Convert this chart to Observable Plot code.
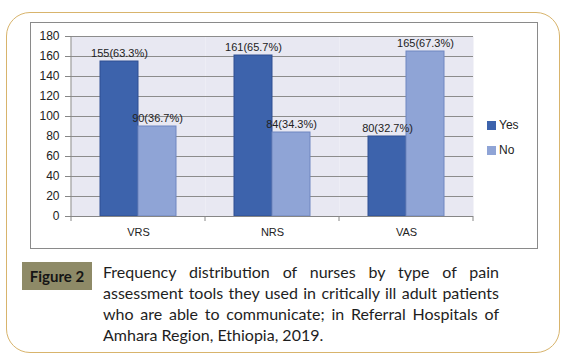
<!DOCTYPE html>
<html>
<head>
<meta charset="utf-8">
<script src="https://cdn.jsdelivr.net/npm/d3@7"></script>
<script src="https://cdn.jsdelivr.net/npm/@observablehq/plot@0.6"></script>
<style>
  html, body { margin: 0; padding: 0; background: #fff; }
  #wrap { position: relative; width: 568px; height: 363px; background: #fff; overflow: hidden; }
  #frame { position: absolute; left: 6px; top: 12px; width: 554px; height: 341px; border: 1.5px solid #d8b46c; border-radius: 24px; box-sizing: border-box; }
  #chart { position: absolute; left: 30px; top: 22px; width: 508px; height: 227px; border: 1px solid #8a8a8a; box-sizing: border-box; background: #fff; }
  #chart svg { display: block; }
  .leg { position: absolute; left: 487px; font: 12px "Liberation Sans", Arial, sans-serif; color: #222; display: flex; align-items: center; }
  .leg span.sw { display: inline-block; width: 9px; height: 9px; margin-right: 3px; }
  #figlabel { position: absolute; left: 22px; top: 262px; width: 70px; height: 28px; background: #8e8a67; font: bold 15px Lato, sans-serif; color: #151515; display: flex; align-items: center; justify-content: center; }
  #captext { position: absolute; left: 103px; top: 261px; width: 396px; font: 16px Lato, sans-serif; line-height: 21px; color: #1e1e1e; text-align: justify; }
</style>
</head>
<body>
<div id="wrap">
  <div id="frame"></div>
  <div id="chart"></div>
  <div id="legend"></div>
  <div id="figlabel"></div>
  <div id="captext"></div>
</div>
<script>
const categories = ["VRS", "NRS", "VAS"];
const seriesNames = ["Yes", "No"];
const yesValues = [155, 161, 80];
const noValues = [90, 84, 165];
const yesLabels = ["155(63.3%)", "161(65.7%)", "80(32.7%)"];
const noLabels = ["90(36.7%)", "84(34.3%)", "165(67.3%)"];
const yTicks = [0, 20, 40, 60, 80, 100, 120, 140, 160, 180];
const seriesColors = ["#3d63ac", "#8fa4d6"];
const seriesStrokes = ["#2f4f92", "#6f86c0"];
const figureLabel = "Figure 2";
const captionText = "Frequency distribution of nurses by type of pain assessment tools they used in critically ill adult patients who are able to communicate; in Referral Hospitals of Amhara Region, Ethiopia, 2019.";

const data = categories.flatMap((c, i) => [
  {cat: c, s: "Yes", v: yesValues[i], label: yesLabels[i]},
  {cat: c, s: "No", v: noValues[i], label: noLabels[i]}
]);

const W = 506, H = 225, mL = 40, mR = 64, mT = 13, mB = 32;
const axisColor = "#868686";

const plot = Plot.plot({
  width: W, height: H,
  marginLeft: mL, marginRight: mR, marginTop: mT, marginBottom: mB,
  style: {fontFamily: "'Liberation Sans', Arial, sans-serif", fontSize: "11px", color: "#333", background: "white"},
  fx: {domain: categories, padding: 0, label: null, axis: null},
  x: {domain: seriesNames, paddingInner: 0, paddingOuter: 0.74, axis: null},
  y: {domain: [0, 180], label: null},
  marks: [
    Plot.frame({fill: "#e8e8f2"}),
    Plot.gridY(yTicks, {stroke: "#8c8c8c", strokeOpacity: 1}),
    ...seriesNames.map((s, k) => Plot.barY(data.filter(d => d.s === s), {
      fx: "cat", x: "s", y: "v", fill: seriesColors[k], stroke: seriesStrokes[k], strokeWidth: 1, inset: 0
    })),
    Plot.text(data, {fx: "cat", x: "s", y: "v", text: "label", dy: -8, fontSize: 11, fill: "#222"}),
    Plot.ruleY([0], {stroke: axisColor}),
    Plot.axisY({ticks: yTicks, tickSize: 6, tickPadding: 6, fontSize: 12, stroke: axisColor, strokeOpacity: 1, fill: "#222"}),
    Plot.axisFx({anchor: "bottom", tickSize: 0, tickPadding: 12, label: null, fontSize: 11, fill: "#222"})
  ]
});

// axis line and category boundary ticks derived from the scales
const fxs = plot.scale("fx"), ys = plot.scale("y");
const y0 = ys.apply(0), yTop = ys.apply(180);
const svg = d3.select(plot);
const bounds = [fxs.apply(categories[0]), ...categories.map(c => fxs.apply(c) + fxs.bandwidth)];
svg.append("line").attr("x1", bounds[0]).attr("x2", bounds[0]).attr("y1", yTop).attr("y2", y0 + 5)
  .attr("stroke", axisColor);
bounds.slice(1).forEach(b => {
  svg.append("line").attr("x1", b).attr("x2", b).attr("y1", y0).attr("y2", y0 + 5).attr("stroke", axisColor);
});
document.getElementById("chart").appendChild(plot);

// legend
const legTops = [118, 143];
const leg = document.getElementById("legend");
seriesNames.forEach((s, k) => {
  const d = document.createElement("div");
  d.className = "leg";
  d.style.top = legTops[k] + "px";
  d.innerHTML = `<span class="sw" style="background:${seriesColors[k]}"></span>${s}`;
  leg.appendChild(d);
});

document.getElementById("figlabel").textContent = figureLabel;
document.getElementById("captext").textContent = captionText;
</script>
</body>
</html>
